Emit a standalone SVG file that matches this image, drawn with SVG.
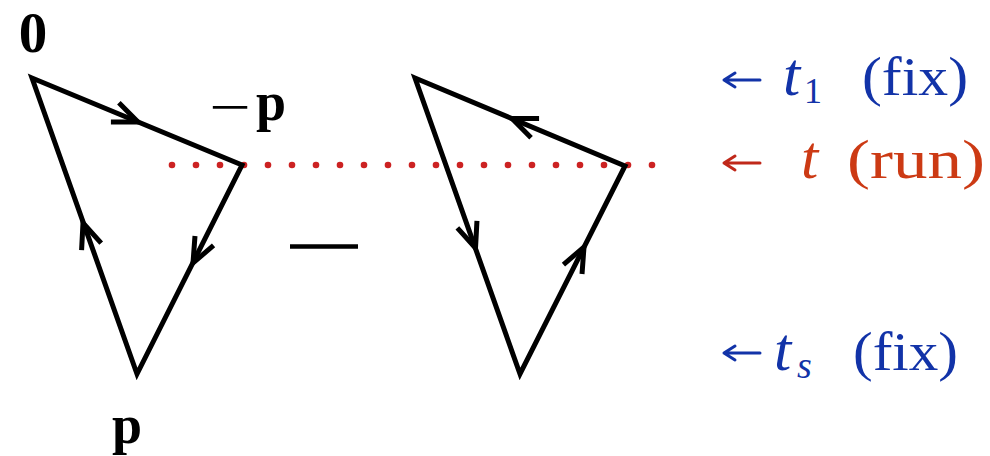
<svg xmlns="http://www.w3.org/2000/svg" xmlns:xlink="http://www.w3.org/1999/xlink" width="990" height="456" viewBox="0 0 990 456">
<style>
.tri{fill:none;stroke:#000;stroke-width:5;stroke-linejoin:miter;stroke-miterlimit:10}
.chev{fill:none;stroke:#000;stroke-width:5;stroke-linecap:butt;stroke-linejoin:miter}
.lbl{font-family:"Liberation Serif","DejaVu Serif",serif;font-size:54px;fill:#000}
.b{font-weight:bold}
.it{font-style:italic;font-size:62px}
.blue{fill:#1233a8}
.red{fill:#cc3a14}
.sarr{fill:none;stroke-width:3;stroke-linecap:round;stroke-linejoin:round}
.dot{fill:#cc2222}
</style>
<defs>
<path id="chev" class="chev" d="M-25,-10.4 L0,0 L-25,10.4"/>
</defs>
<g id="dotted-line">
<circle class="dot" cx="172" cy="165" r="3.3"/><circle class="dot" cx="196" cy="165" r="3.3"/><circle class="dot" cx="220" cy="165" r="3.3"/><circle class="dot" cx="244" cy="165" r="3.3"/><circle class="dot" cx="268" cy="165" r="3.3"/><circle class="dot" cx="292" cy="165" r="3.3"/><circle class="dot" cx="316" cy="165" r="3.3"/><circle class="dot" cx="340" cy="165" r="3.3"/><circle class="dot" cx="364" cy="165" r="3.3"/><circle class="dot" cx="388" cy="165" r="3.3"/><circle class="dot" cx="412" cy="165" r="3.3"/><circle class="dot" cx="436" cy="165" r="3.3"/><circle class="dot" cx="460" cy="165" r="3.3"/><circle class="dot" cx="484" cy="165" r="3.3"/><circle class="dot" cx="508" cy="165" r="3.3"/><circle class="dot" cx="532" cy="165" r="3.3"/><circle class="dot" cx="556" cy="165" r="3.3"/><circle class="dot" cx="580" cy="165" r="3.3"/><circle class="dot" cx="604" cy="165" r="3.3"/><circle class="dot" cx="628" cy="165" r="3.3"/><circle class="dot" cx="652" cy="165" r="3.3"/>
</g>
<g id="left-loop">
<polygon class="tri" points="32,78 242,165 137,374"/>
<use xlink:href="#chev" href="#chev" transform="translate(138,122) rotate(22.5)"/>
<use xlink:href="#chev" href="#chev" transform="translate(193,263) rotate(116.8)"/>
<use xlink:href="#chev" href="#chev" transform="translate(83,223) rotate(-109.6)"/>
</g>
<g id="right-loop">
<polygon class="tri" points="415,78 625,166 520,374"/>
<use xlink:href="#chev" href="#chev" transform="translate(512,118.5) rotate(-157.3)"/>
<use xlink:href="#chev" href="#chev" transform="translate(475.5,248) rotate(70.5)"/>
<use xlink:href="#chev" href="#chev" transform="translate(584,247) rotate(-63.2)"/>
</g>
<g id="minus">
<line x1="290" y1="246.5" x2="358" y2="246.5" stroke="#000" stroke-width="4.5"/>
</g>
<g id="labels">
<text class="lbl b" x="33" y="52" text-anchor="middle" style="font-size:57px">0</text>
<text class="lbl" transform="translate(209,125) scale(1.37,1)" x="0" y="0">−</text>
<text class="lbl b" x="256" y="120">p</text>
<text class="lbl b" x="127" y="443" text-anchor="middle">p</text>
</g>
<g id="label-t1">
<path class="sarr" stroke="#1233a8" d="M760,80 L724,80 M735,73 L724,80 L735,87"/>
<text class="lbl blue" x="783" y="95"><tspan class="it">t</tspan><tspan font-size="36" x="804" y="103">1</tspan><tspan x="862" y="95" textLength="106" lengthAdjust="spacingAndGlyphs">(fix)</tspan></text>
</g>
<g id="label-t">
<path class="sarr" stroke="#c0281a" d="M760,163 L724,163 M735,156 L724,163 L735,170"/>
<text class="lbl red" x="801" y="178"><tspan class="it">t</tspan><tspan x="847" textLength="138" lengthAdjust="spacingAndGlyphs">(run)</tspan></text>
</g>
<g id="label-ts">
<path class="sarr" stroke="#1233a8" d="M760,353 L724,353 M735,346 L724,353 L735,360"/>
<text class="lbl blue" x="774" y="370"><tspan class="it">t</tspan><tspan font-style="italic" font-size="38" x="797" y="378">s</tspan><tspan x="853" y="370" textLength="105" lengthAdjust="spacingAndGlyphs">(fix)</tspan></text>
</g>
</svg>
